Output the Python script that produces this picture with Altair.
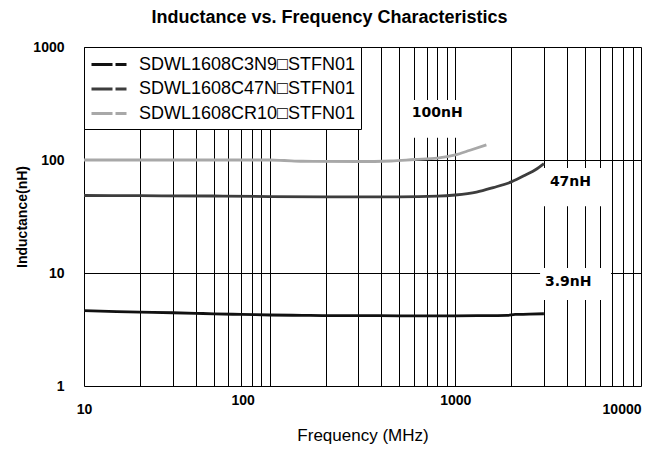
import altair as alt
import pandas as pd

# ---------------- data ----------------
series_names = ["SDWL1608C3N9\u25a1STFN01", "SDWL1608C47N\u25a1STFN01", "SDWL1608CR10\u25a1STFN01"]
series_colors = ["#111111", "#3d3d3d", "#a8a8a8"]

freq_3n9 = [10, 15, 20, 30, 40, 50, 70, 100, 150, 200, 300, 500, 700, 1000, 1500, 1900, 2100, 2500, 3000]
ind_3n9 = [4.65, 4.55, 4.5, 4.45, 4.4, 4.35, 4.3, 4.25, 4.22, 4.2, 4.2, 4.18, 4.18, 4.18, 4.2, 4.22, 4.3, 4.32, 4.36]

freq_47n = [10, 20, 50, 100, 200, 500, 800, 1000, 1300, 1600, 2000, 2400, 2700, 3000]
ind_47n = [48.5, 48.3, 48.0, 47.5, 47.2, 47.2, 47.8, 49, 52, 57, 64, 74, 82, 93]

freq_r10 = [10, 50, 100, 120, 150, 300, 450, 600, 800, 1000, 1200, 1470]
ind_r10 = [100, 100, 100, 99, 97.5, 97, 98, 101, 104, 111, 122, 136]

x_grid_values = [10, 20, 30, 40, 50, 60, 70, 80, 90,
                 100, 200, 300, 400, 500, 600, 700, 800, 900,
                 1000, 2000, 3000, 4000, 5000, 6000, 7000, 8000, 9000, 10000]
y_values = [1, 10, 100, 1000]

label_text = ["100nH", "47nH", "3.9nH"]
label_freq = [583, 3230, 3040]
label_ind = [261, 63.8, 8.32]
box_freq_lo = [540, 2860, 2860]
box_freq_hi = [1200, 6900, 6900]
box_ind_lo = [157, 39, 5.77]
box_ind_hi = [340, 85, 11.1]

# ---------------- tables ----------------
rows = []
for name, fs, ls in zip(series_names, [freq_3n9, freq_47n, freq_r10], [ind_3n9, ind_47n, ind_r10]):
    for f, l in zip(fs, ls):
        rows.append({"series": name, "freq": f, "ind": l})
df = pd.DataFrame(rows)

ann = pd.DataFrame({
    "text": label_text, "freq": label_freq, "ind": label_ind,
    "flo": box_freq_lo, "fhi": box_freq_hi, "ilo": box_ind_lo, "ihi": box_ind_hi,
})

xs = alt.Scale(type="log", domain=[10, 10000], nice=False)
ys = alt.Scale(type="log", domain=[1, 1000], nice=False)

x_axis = alt.Axis(
    values=x_grid_values, grid=True, gridColor="black", gridWidth=1, gridOpacity=1,
    ticks=False, domain=False,
    labelExpr="indexof([10,100,1000,10000], datum.value) >= 0 ? format(datum.value, 'd') : ''",
    labelFont="Liberation Sans", labelFontWeight="bold", labelFontSize=14, labelColor="black",
    labelPadding={"condition": {"test": "datum.value == 100 || datum.value == 1000", "value": 7}, "value": 16},
    labelOffset={"condition": {"test": "datum.value == 100", "value": -27}, "value": 0},
    labelAlign={"condition": {"test": "datum.value == 10000", "value": "right"}, "value": "center"},
    labelOverlap=False, labelFlush=False, labelBound=False,
    title="Frequency (MHz)", titleFont="Liberation Sans", titleFontSize=17, titleFontWeight="normal",
    titleColor="black", titleY=49, titleBaseline="middle",
)
y_axis = alt.Axis(
    values=y_values, grid=True, gridColor="black", gridWidth=1, gridOpacity=1,
    ticks=False, domain=False,
    labelExpr="format(datum.value, 'd')",
    labelFont="Liberation Sans", labelFontWeight="bold", labelFontSize=14, labelColor="black",
    labelPadding=20, labelOverlap=False, labelFlush=False,
    title="Inductance(nH)", titleFont="Liberation Sans", titleFontSize=14, titleFontWeight="bold",
    titleColor="black", titleX=-62, titleBaseline="middle",
)

legend = alt.Legend(
    title=None, orient="top-left", offset=0, padding=6,
    strokeColor="black", fillColor="white", cornerRadius=0,
    symbolType="M-1,0H1.1M1.4,0H2.5", symbolSize=400, symbolStrokeWidth=3,
    labelFont="Liberation Sans", labelFontSize=18, labelColor="black",
    labelLimit=500, labelOffset=26, rowPadding=3.5,
)

boxes = alt.Chart(ann).mark_rect(color="white").encode(
    x=alt.X("flo:Q", scale=xs, axis=x_axis, title="Frequency (MHz)"),
    x2="fhi:Q",
    y=alt.Y("ilo:Q", scale=ys, axis=y_axis, title="Inductance(nH)"),
    y2="ihi:Q",
)

lines = alt.Chart(df).mark_line(strokeWidth=2.8, interpolate="monotone").encode(
    x=alt.X("freq:Q", scale=xs, axis=x_axis, title="Frequency (MHz)"),
    y=alt.Y("ind:Q", scale=ys, axis=y_axis, title="Inductance(nH)"),
    color=alt.Color("series:N", scale=alt.Scale(domain=series_names, range=series_colors), legend=legend),
)

texts = alt.Chart(ann).mark_text(
    align="left", baseline="middle", font="DejaVu Sans", fontWeight="bold", fontSize=14, color="black"
).encode(
    x=alt.X("freq:Q", scale=xs, axis=x_axis, title="Frequency (MHz)"),
    y=alt.Y("ind:Q", scale=ys, axis=y_axis, title="Inductance(nH)"),
    text="text:N",
)

chart = alt.layer(boxes, lines, texts).properties(
    width=557, height=339,
    padding={"left": 76, "top": 39, "right": 12, "bottom": 60},
    autosize=alt.AutoSizeParams(type="none"),
    title=alt.TitleParams(
        "Inductance vs. Frequency Characteristics", font="Liberation Sans", fontSize=18,
        fontWeight="bold", anchor="middle", dx=-33, offset=13, color="black",
    ),
).configure_view(stroke="black", strokeWidth=1).configure(background="white")

chart.save("out.html", embed_options={"renderer": "svg", "actions": False})
